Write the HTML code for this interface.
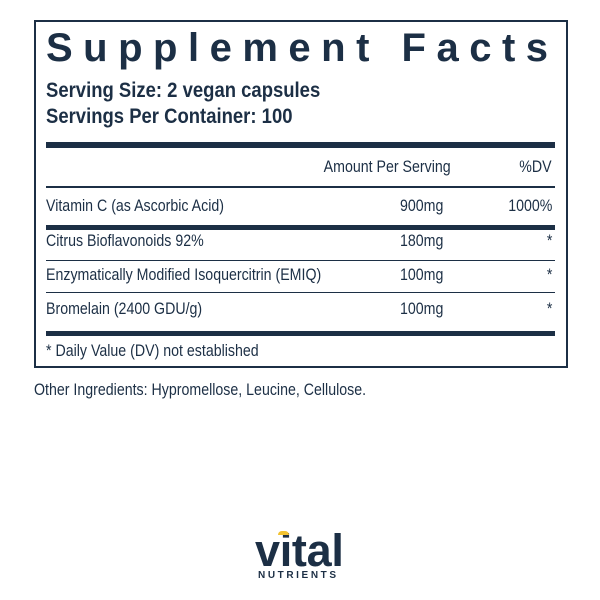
<!DOCTYPE html>
<html><head><style>
body{margin:0;width:600px;height:600px;background:#fff;position:relative;font-family:"Liberation Sans",sans-serif;color:#1c2f45;overflow:hidden}
.a{position:absolute;white-space:nowrap;line-height:1}
.l{transform:scaleX(.86);transform-origin:left center}
.r{transform:scaleX(.86);transform-origin:right center}
.t{font-size:16.5px}
.rule{position:absolute;left:46px;width:509px;background:#1c2f45}
</style></head><body>
<div style="position:absolute;left:34px;top:20px;width:530px;height:344px;border:2px solid #1c2f45"></div>
<div class="a" style="left:46px;top:28px;font-size:40px;font-weight:bold;letter-spacing:10.5px">Supplement Facts</div>
<div class="a l" style="left:46px;top:80px;font-size:21px;font-weight:bold;transform:scaleX(.88)">Serving Size: 2 vegan capsules</div>
<div class="a l" style="left:46px;top:106px;font-size:21px;font-weight:bold;transform:scaleX(.88)">Servings Per Container: 100</div>
<div class="rule" style="top:142px;height:6px"></div>
<div class="a r t" style="right:149px;top:159px">Amount Per Serving</div>
<div class="a r t" style="right:48px;top:159px">%DV</div>
<div class="rule" style="top:186px;height:2px"></div>
<div class="a l t" style="left:46px;top:198px">Vitamin C (as Ascorbic Acid)</div>
<div class="a l t" style="left:400px;top:198px">900mg</div>
<div class="a r t" style="right:48px;top:198px">1000%</div>
<div class="rule" style="top:225px;height:5px"></div>
<div class="a l t" style="left:46px;top:233px">Citrus Bioflavonoids 92%</div>
<div class="a l t" style="left:400px;top:233px">180mg</div>
<div class="a r t" style="right:48px;top:233px">*</div>
<div class="rule" style="top:260px;height:1px"></div>
<div class="a l t" style="left:46px;top:267px">Enzymatically Modified Isoquercitrin (EMIQ)</div>
<div class="a l t" style="left:400px;top:267px">100mg</div>
<div class="a r t" style="right:48px;top:267px">*</div>
<div class="rule" style="top:292px;height:1px"></div>
<div class="a l t" style="left:46px;top:301px">Bromelain (2400 GDU/g)</div>
<div class="a l t" style="left:400px;top:301px">100mg</div>
<div class="a r t" style="right:48px;top:301px">*</div>
<div class="rule" style="top:331px;height:5px"></div>
<div class="a l t" style="left:46px;top:343px">* Daily Value (DV) not established</div>
<div class="a l t" style="left:34px;top:382px">Other Ingredients: Hypromellose, Leucine, Cellulose.</div>
<div class="a" style="left:255px;top:528px;font-size:45px;font-weight:bold;letter-spacing:-0.3px">vital</div>
<div class="a" style="left:258px;top:571px;font-size:10px;font-weight:bold;letter-spacing:2.6px">NUTRIENTS</div>
<div class="a" style="left:278px;top:531px;width:11px;height:4px;background:#f2c230;border-radius:5px 5px 0 0"></div>
</body></html>
